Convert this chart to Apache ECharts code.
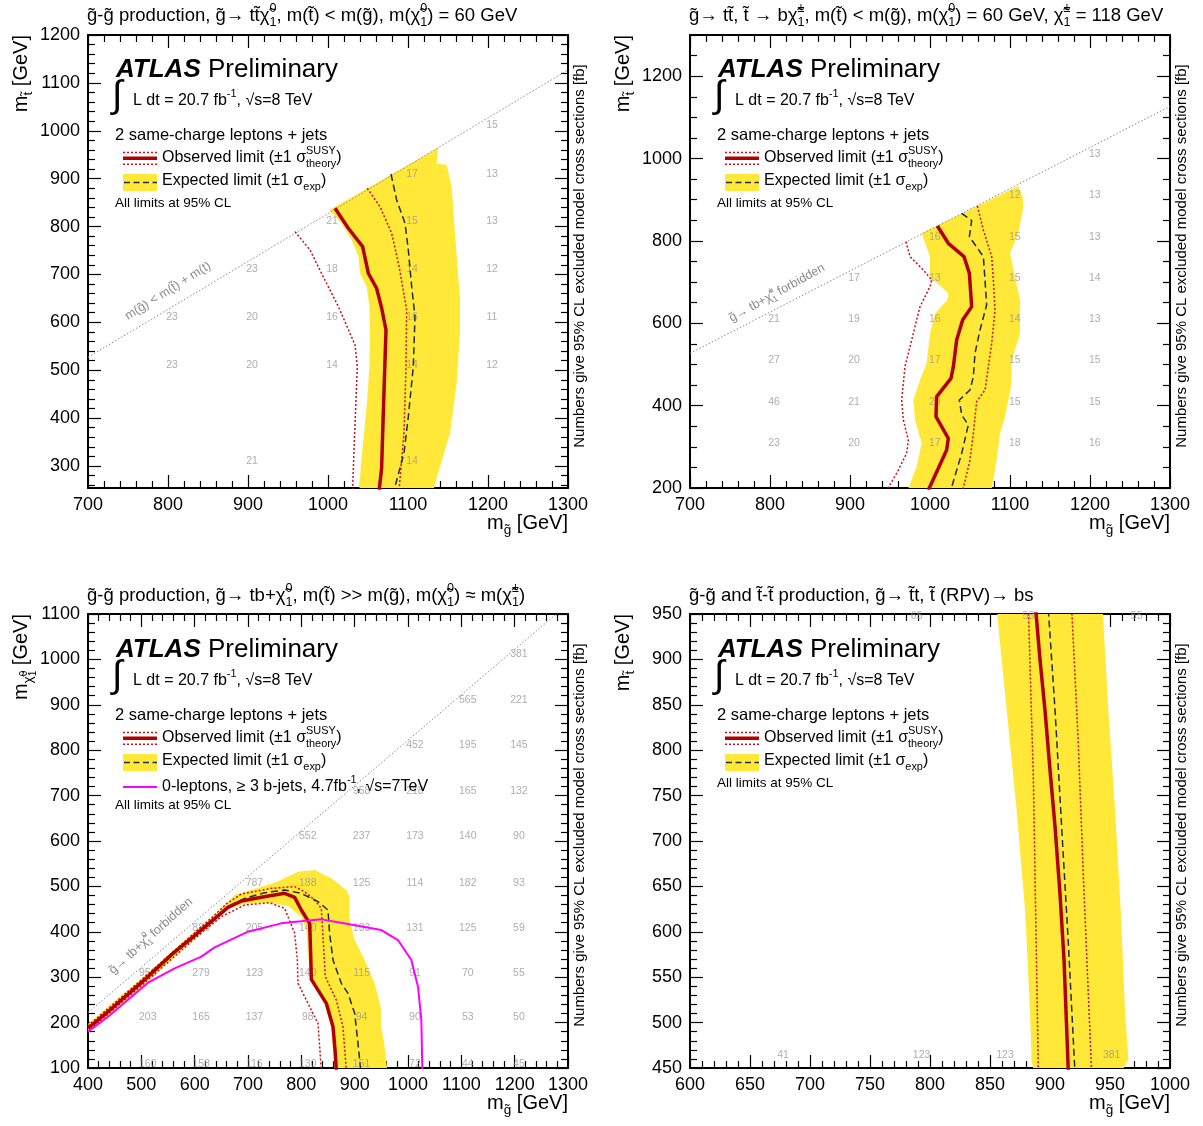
<!DOCTYPE html>
<html><head><meta charset="utf-8">
<script src="https://cdn.jsdelivr.net/npm/echarts@6/dist/echarts.min.js"></script>
<style>html,body{margin:0;padding:0;background:#fff}#c{width:1203px;height:1126px}</style>
</head><body><div id="c"></div>
<script>
// ---------------- DATA ----------------
// tick labels
const p1XTicks = [700,800,900,1000,1100,1200,1300];
const p1YTicks = [300,400,500,600,700,800,900,1000,1100,1200];
const p2XTicks = [700,800,900,1000,1100,1200,1300];
const p2YTicks = [200,400,600,800,1000,1200];
const p3XTicks = [400,500,600,700,800,900,1000,1100,1200,1300];
const p3YTicks = [100,200,300,400,500,600,700,800,900,1000,1100];
const p4XTicks = [600,650,700,750,800,850,900,950,1000];
const p4YTicks = [450,500,550,600,650,700,750,800,850,900,950];

// Panel 1: gluino -> t t chi (off-shell stop)
const p1Diag = [[700,527],[1300,1127]];
const p1Obs = [[1008.75,838],[1025.4,796.4],[1043.3,758],[1050.4,702.5],[1060.8,671],[1067.1,629.4],[1072.5,584],[1071,507.5],[1069,403],[1067,295],[1064,250]];
const p1ObsUp = [[1049,880],[1065,841.5],[1079.6,786],[1089,716],[1098.3,626],[1097.5,507.5],[1095,368.5],[1089,253.7],[1088,245]];
const p1ObsDn = [[958.75,789.4],[977.5,751],[994,695.4],[1012.9,633],[1033.75,553],[1036.6,507.5],[1035,438],[1032.5,333.6],[1030.8,253.7],[1030.5,245]];
const p1Exp = [[1078.75,909.8],[1085.8,855.5],[1096.25,807],[1100.4,751],[1104.6,674.5],[1108.75,612],[1106.6,507.5],[1100.4,403],[1095,327],[1083.75,257],[1082,245]];
const p1Band = [[1001.7,834.6],[1017,806.9],[1029.6,772],[1038,737.2],[1040,702.5],[1048.4,674.5],[1051.7,633],[1052.5,577.3],[1051.7,507.5],[1049,438],[1045,368.5],[1041,298.7],[1039,245],[1131,245],[1140,298.7],[1152.5,368.5],[1160.8,473],[1165,577],[1165,647],[1158.75,786],[1154.6,883],[1148.4,928.6],[1135.8,932],[1137.9,964.7]];
const p1Nums = [
  [1205,1012,'15'],
  [1105,910,'17'],[1205,910,'13'],
  [1005,812,'21'],[1105,812,'15'],[1205,812,'13'],
  [905,712,'23'],[1005,712,'18'],[1105,712,'14'],[1205,712,'12'],
  [805,611,'23'],[905,611,'20'],[1005,611,'16'],[1105,611,'16'],[1205,611,'11'],
  [805,511,'23'],[905,511,'20'],[1005,511,'14'],[1105,511,'14'],[1205,511,'12'],
  [905,311,'21'],[1105,311,'14']
];

// Panel 2: gluino -> t stop, stop -> b chargino
const p2Diag = [[700,527],[1300,1127]];
const p2Obs = [[1009.2,836.3],[1022.9,794.2],[1042.5,761.8],[1049.2,721.3],[1052.1,640.4],[1040.8,608],[1033.3,559.4],[1029.2,494.7],[1026.25,466.3],[1008.3,421.8],[1007.5,373.3],[1022.9,320.7],[1020.8,292.3],[998,195]];
const p2Exp = [[1039.6,867],[1052.1,849.2],[1049.2,810.4],[1066.7,761.8],[1068.75,705.1],[1070.8,644.4],[1062.5,583.7],[1056.25,527],[1054.2,470.4],[1050,438],[1036.7,413.7],[1039.6,377.3],[1047.9,353],[1039.6,284.2],[1026,195]];
const p2ObsUp = [[1059.2,884.8],[1066.7,826.5],[1077.1,761.8],[1079.2,705.1],[1081.25,632.3],[1077.1,551.3],[1068.75,438],[1058.3,409.7],[1054.2,332.8],[1050,268],[1041,195]];
const p2ObsDn = [[970,798.2],[975,761.8],[991.7,729.4],[1002.1,705.1],[1000,688.9],[987.5,640.4],[979.2,575.6],[968.75,494.7],[964.6,413.7],[966.7,365.2],[972.9,316.6],[970.8,284.2],[958.3,235.7],[946,195]];
const p2Band = [[989.6,818.4],[1000,761.8],[1000,713.2],[1022.9,672.8],[1021.7,656.6],[1006.25,624.2],[1000,575.6],[995.8,502.8],[987.5,462.3],[979.2,413.7],[981.25,365.2],[989.6,308.5],[983.3,251.9],[972,195],[1077,195],[1083.3,268],[1087.5,332.8],[1093.75,373.3],[1102.1,454.2],[1102.1,510.9],[1112.5,575.6],[1112.5,656.6],[1106.25,713.2],[1100,769.9],[1110.4,818.4],[1116.7,883.2],[1115.8,905.9],[1110.4,933.4]];
const p2Nums = [
  [1206,1010,'13'],
  [1106,910,'12'],[1206,910,'13'],
  [1006,810,'16'],[1106,810,'15'],[1206,810,'13'],
  [905,709,'17'],[1006,709,'13'],[1106,709,'15'],[1206,709,'14'],
  [805,610,'21'],[905,610,'19'],[1006,610,'16'],[1106,610,'14'],[1206,610,'13'],
  [805,510,'27'],[905,510,'20'],[1006,510,'17'],[1106,510,'15'],[1206,510,'15'],
  [805,408,'46'],[905,408,'21'],[1006,408,'20'],[1106,408,'15'],[1206,408,'15'],
  [805,309,'23'],[905,309,'20'],[1006,309,'17'],[1106,309,'18'],[1206,309,'16']
];

// Panel 3: gluino -> t b chi
const p3Diag = [[400,222],[1278,1100]];
const p3Obs = [[400,187.3],[437.5,224],[500,287.9],[559.4,352.5],[593.75,385.6],[634.4,425.9],[662.5,453.8],[687.5,467.8],[725,475.9],[768.75,484.7],[787.5,475.9],[800,448],[815.6,418.6],[817.5,352.5],[818.75,295.3],[846.9,242.4],[859.4,191],[863.75,132.3],[865.6,95]];
const p3Exp = [[400,188.5],[437.5,225.5],[500,289.5],[559.4,354],[593.75,387.5],[634.4,428],[662.5,456],[693.75,473.7],[731.25,486.1],[768.75,492],[800,484.7],[831.25,466.3],[850,448],[853,396.6],[859.4,337.8],[875,286.5],[887.5,264.4],[900,220.4],[906.25,154.3],[911.25,95]];
const p3ObsUp = [[400,193],[500,294],[600,398],[637.5,437],[660,462],[687.5,483.2],[743.75,495.7],[787.5,499.4],[806.25,488.3],[825,470],[837.5,451.6],[840.6,389.2],[845,301.1],[865.6,249.7],[878,191],[884.4,95]];
const p3ObsDn = [[400,181],[500,281],[600,385],[650,433.3],[693.75,459],[740.6,464.1],[768.75,451.6],[787.5,396.6],[792.5,337.8],[793.75,286.5],[815.6,235],[831.25,198.3],[837.5,95]];
const p3Band = [[400,197],[500,297],[587.5,388],[631,429.6],[675,481],[750,508.2],[793.75,532.4],[825,536.1],[856.25,517.7],[884.4,492],[890.6,477.3],[890.6,426],[900,381.9],[918.75,337.8],[937.5,286.5],[948.75,235],[950,191],[956.25,147],[961.25,95],[862,95],[856,191],[843,242],[817,294],[812.5,352.5],[809.4,404],[800,433.3],[775,456.8],[743.75,464.1],[693.75,462.6],[662.5,449.4],[625,411.3],[500,279],[400,178]];
const p3Zero = [[400,180],[437.5,213],[512.5,287.9],[562.5,319.5],[612.5,345.2],[637.5,365.7],[700,400.2],[762.5,418.6],[837.5,427.4],[887.5,417.1],[950,403.9],[981.25,381.9],[1006.25,337.8],[1018.75,279.1],[1025,205.7],[1026.9,95]];
const p3Nums = [
  [1208,1012,'381'],
  [1112,910,'565'],[1208,910,'221'],
  [1013,811,'452'],[1112,811,'195'],[1208,811,'145'],
  [913,710,'958'],[1013,710,'218'],[1112,710,'165'],[1208,710,'132'],
  [812,611,'552'],[913,611,'237'],[1013,611,'173'],[1112,611,'140'],[1208,611,'90'],
  [712,508,'787'],[812,508,'188'],[913,508,'125'],[1013,508,'114'],[1112,508,'182'],[1208,508,'93'],
  [612,409,'886'],[712,409,'205'],[812,409,'140'],[913,409,'133'],[1013,409,'131'],[1112,409,'125'],[1208,409,'59'],
  [512,310,'956'],[612,310,'279'],[712,310,'123'],[812,310,'140'],[913,310,'115'],[1013,310,'91'],[1112,310,'70'],[1208,310,'55'],
  [512,211,'203'],[612,211,'165'],[712,211,'137'],[812,211,'98'],[913,211,'94'],[1013,211,'90'],[1112,211,'53'],[1208,211,'50'],
  [512,109,'160'],[612,109,'158'],[712,109,'116'],[812,109,'130'],[913,109,'151'],[1013,109,'72'],[1112,109,'44'],[1208,109,'45']
];

// Panel 4: RPV stop -> bs
const p4Obs = [[888.1,955],[891.7,899.3],[895.8,844.3],[900,778.2],[904.2,715.8],[908.3,642.4],[911.7,569],[915.3,445]];
const p4Exp = [[898.6,955],[904.2,844.3],[909.7,715.8],[915.3,587.3],[920.8,445]];
const p4ObsDn = [[882,955],[886.1,770.9],[890.3,445]];
const p4ObsUp = [[918.1,955],[923.6,807.6],[927.8,660.7],[934.7,445]];
const p4Band = [[855.6,955],[863.9,844.3],[872.2,734.1],[879.2,624],[883.3,513.9],[884.7,458],[886.1,449],[961.1,449],[965.3,458.8],[962.5,513.9],[958.9,624],[954.2,734.1],[948.6,844.3],[943.9,955]];
const p4Nums = [[788.9,947.7,'65'],[882,947.7,'58'],[972.2,947.7,'55'],[677.5,464.3,'41'],[793,464.3,'123'],[862.5,464.3,'123'],[951.4,464.3,'381']];

// ---------------- STYLE ----------------
const FONT = '"Liberation Sans", Arial, Helvetica, sans-serif';
const YELLOW = '#ffe838';
const RED = '#b00000';
const RED_DOT = '#c8101a';
const EXP_C = '#1f2c3b';
const NUM_C = '#999999';
const GRAY = '#8a8a8a';
const MAG = '#ff00ff';

const G = 'g\u0303', ST = 't\u0303', CHI = '\u03c7\u0303';

const panels = [
  {left:88, top:35, w:480, h:453, x:[700,1300], y:[254,1200], xt:p1XTicks, yt:p1YTicks, xs:20, ys:20},
  {left:690, top:35, w:480, h:453, x:[700,1300], y:[200,1300], xt:p2XTicks, yt:p2YTicks, xs:20, ys:50},
  {left:88, top:614, w:480, h:454, x:[400,1300], y:[100,1100], xt:p3XTicks, yt:p3YTicks, xs:20, ys:20},
  {left:690, top:614, w:480, h:454, x:[600,1000], y:[450,950], xt:p4XTicks, yt:p4YTicks, xs:10, ys:10}
];

function minors(min, max, step, majors) {
  const out = [];
  for (let v = Math.ceil(min / step) * step; v <= max + 1e-9; v += step) {
    if (!majors.some(m => Math.abs(m - v) < 1e-6)) out.push(v);
  }
  return out;
}

function mkAxis(gi, min, max, pos, vals, len, showLabel, showLine) {
  const a = {
    type: 'value', gridIndex: gi, min, max, position: pos, offset: 0,
    axisLine: {show: showLine, onZero: false, lineStyle: {color: '#000', width: 2}},
    axisTick: {show: true, inside: true, length: len, customValues: vals, lineStyle: {color: '#000', width: 1.2}},
    axisLabel: {show: showLabel, margin: 8, fontSize: 18, fontFamily: FONT, color: '#000', formatter: v => String(v)},
    splitLine: {show: false}, minorTick: {show: false}, splitArea: {show: false}
  };
  if (showLabel) a.axisLabel.customValues = vals;
  return a;
}

const xAxis = [], yAxis = [], grid = [];
panels.forEach((p, i) => {
  grid.push({left: p.left, top: p.top, width: p.w, height: p.h, containLabel: false, outerBoundsMode: 'none'});
  const xm = minors(p.x[0], p.x[1], p.xs, p.xt), ym = minors(p.y[0], p.y[1], p.ys, p.yt);
  xAxis.push(mkAxis(i, p.x[0], p.x[1], 'bottom', p.xt, 13, true, true));
  xAxis.push(mkAxis(i, p.x[0], p.x[1], 'bottom', xm, 7, false, false));
  xAxis.push(mkAxis(i, p.x[0], p.x[1], 'top', p.xt, 13, false, true));
  xAxis.push(mkAxis(i, p.x[0], p.x[1], 'top', xm, 7, false, false));
  yAxis.push(mkAxis(i, p.y[0], p.y[1], 'left', p.yt, 13, true, true));
  yAxis.push(mkAxis(i, p.y[0], p.y[1], 'left', ym, 7, false, false));
  yAxis.push(mkAxis(i, p.y[0], p.y[1], 'right', p.yt, 13, false, true));
  yAxis.push(mkAxis(i, p.y[0], p.y[1], 'right', ym, 7, false, false));
});

function lineS(pi, data, color, width, type, z) {
  return {type: 'line', xAxisIndex: 4 * pi, yAxisIndex: 4 * pi, data, symbol: 'none', clip: true, silent: true,
    lineStyle: {color, width, type, cap: 'butt'}, z};
}
function bandS(pi, pts) {
  return {type: 'custom', xAxisIndex: 4 * pi, yAxisIndex: 4 * pi, clip: true, silent: true, z: 1,
    data: pts, encode: {x: 0, y: 1},
    renderItem: (params, api) => {
      if (params.dataIndex !== 0) return null;
      return {type: 'polygon', shape: {points: pts.map(q => api.coord(q))}, style: {fill: YELLOW}};
    }};
}
function numS(pi, nums) {
  return {type: 'scatter', xAxisIndex: 4 * pi, yAxisIndex: 4 * pi, data: nums, symbolSize: 0, silent: true, clip: true, z: 2,
    encode: {x: 0, y: 1},
    label: {show: true, position: 'inside', formatter: p => p.data[2], color: NUM_C, fontSize: 10.5, fontFamily: FONT}};
}
const DOT = [2, 2], DASH = [7, 4];
function contourSet(pi, band, dn, up, exp, obs) {
  return [bandS(pi, band),
    lineS(pi, dn, RED_DOT, 1.5, DOT, 4), lineS(pi, up, RED_DOT, 1.5, DOT, 4),
    lineS(pi, exp, EXP_C, 1.5, DASH, 5), lineS(pi, obs, RED, 3.5, 'solid', 6)];
}

const series = [
  lineS(0, p1Diag, GRAY, 1, [1.5, 2], 2), numS(0, p1Nums), ...contourSet(0, p1Band, p1ObsDn, p1ObsUp, p1Exp, p1Obs),
  lineS(1, p2Diag, GRAY, 1, [1.5, 2], 2), numS(1, p2Nums), ...contourSet(1, p2Band, p2ObsDn, p2ObsUp, p2Exp, p2Obs),
  lineS(2, p3Diag, GRAY, 1, [1.5, 2], 2), numS(2, p3Nums), ...contourSet(2, p3Band, p3ObsDn, p3ObsUp, p3Exp, p3Obs),
  lineS(2, p3Zero, MAG, 2, 'solid', 7),
  numS(3, p4Nums), ...contourSet(3, p4Band, p4ObsDn, p4ObsUp, p4Exp, p4Obs)
];

// ---------------- TEXT LAYOUT (ROOT-like latex) ----------------
// markup: ^{..} superscript, _{..} subscript, @{..} bold italic, ${..} sub-superscript, !{..} sub-subscript
const mctx = document.createElement('canvas').getContext('2d');
function tw(s, F, bold) { mctx.font = (bold ? 'italic bold ' : '') + F + 'px ' + FONT; return mctx.measureText(s).width; }
function parse(s) {
  const toks = []; let buf = '', i = 0;
  while (i < s.length) {
    const c = s[i];
    if ('^_@$!'.includes(c) && s[i + 1] === '{') {
      if (buf) { toks.push({t: 'n', s: buf}); buf = ''; }
      const j = s.indexOf('}', i + 2);
      toks.push({t: c, s: s.slice(i + 2, j)}); i = j + 1;
    } else { buf += c; i++; }
  }
  if (buf) toks.push({t: 'n', s: buf});
  return toks;
}
function latex(str, F, x, y, o) {
  o = o || {};
  const color = o.color || '#000', toks = parse(str), ch = [];
  const sF = Math.round(F * 0.68 * 10) / 10, ssF = Math.round(F * 0.5 * 10) / 10;
  let cx = 0;
  const put = (s, size, yy, bold) => ch.push({type: 'text', x: cx, y: yy, z: 100, silent: true,
    style: {text: s, fontSize: size, fontFamily: FONT, fontWeight: bold ? 'bold' : 'normal', fontStyle: bold ? 'italic' : 'normal',
      fill: color, align: 'left', verticalAlign: 'middle'}});
  const yOf = t => t === '^' ? -0.42 * F : t === '_' ? 0.36 * F : t === '$' ? 0.36 * F - 0.3 * sF : 0.36 * F + 0.36 * sF;
  const sz = t => (t === '^' || t === '_') ? sF : ssF;
  const pair = {'^': '_', '_': '^', '$': '!', '!': '$'};
  for (let k = 0; k < toks.length; k++) {
    const t = toks[k];
    if (t.t === 'n' || t.t === '@') { const b = t.t === '@'; put(t.s, F, 0, b); cx += tw(t.s, F, b); }
    else {
      let w = tw(t.s, sz(t.t)); put(t.s, sz(t.t), yOf(t.t));
      const nx = toks[k + 1];
      if (nx && nx.t === pair[t.t]) { put(nx.s, sz(nx.t), yOf(nx.t)); w = Math.max(w, tw(nx.s, sz(nx.t))); k++; }
      cx += w;
    }
  }
  const shift = o.align === 'right' ? -cx : o.align === 'center' ? -cx / 2 : 0;
  ch.forEach(c => c.x += shift);
  return {type: 'group', x, y, rotation: o.rot || 0, children: ch, silent: true, z: 100};
}
const R90 = Math.PI / 2, deg = d => d * Math.PI / 180;
function hline(x1, y1, x2, y2, stroke, lw, dash) {
  return {type: 'line', shape: {x1, y1, x2, y2}, z: 100, silent: true, style: {stroke, lineWidth: lw, lineDash: dash || null}};
}

const titles = [
  `${G}-${G} production, ${G}\u2192 t${ST}${CHI}^{0}_{1}, m(${ST}) < m(${G}), m(${CHI}^{0}_{1}) = 60 GeV`,
  `${G}\u2192 t${ST}, ${ST} \u2192 b${CHI}^{\u00b1}_{1}, m(${ST}) < m(${G}), m(${CHI}^{0}_{1}) = 60 GeV, ${CHI}^{\u00b1}_{1} = 118 GeV`,
  `${G}-${G} production, ${G}\u2192 tb+${CHI}^{0}_{1}, m(${ST}) >> m(${G}), m(${CHI}^{0}_{1}) \u2248 m(${CHI}^{\u00b1}_{1})`,
  `${G}-${G} and ${ST}-${ST} production, ${G}\u2192 ${ST}t, ${ST} (RPV)\u2192 bs`
];
const ytitles = [`m_{${ST}} [GeV]`, `m_{${ST}} [GeV]`, `m_{${CHI}}\${0}!{1} [GeV]`, `m_{${ST}} [GeV]`];
const offs = [[0, 0], [602, 0], [0, 580], [602, 580]];

const gfx = [];
offs.forEach(([dx, dy], i) => {
  const p = panels[i];
  gfx.push(latex(titles[i], 18.5, p.left - 1, 16 + dy));
  gfx.push(latex(ytitles[i], 20, 21 + dx, p.top, {rot: R90, align: 'right'}));
  gfx.push(latex(`m_{${G}} [GeV]`, 20, p.left + p.w, 523 + dy, {align: 'right'}));
  gfx.push(latex('Numbers give 95% CL excluded model cross sections [fb]', 15, p.left + p.w + 12, p.top + 221, {rot: R90, align: 'center'}));
  gfx.push(latex('@{ATLAS} Preliminary', 26, 116 + dx, 70 + dy));
  gfx.push(latex('\u222b', 38, 112 + dx, 97 + dy));
  gfx.push(latex('L dt = 20.7 fb^{-1}, \u221as=8 TeV', 16, 133 + dx, 101 + dy));
  gfx.push(latex('2 same-charge leptons + jets', 16.5, 115 + dx, 135 + dy));
  // observed legend
  gfx.push(hline(123 + dx, 152.5 + dy, 157 + dx, 152.5 + dy, RED_DOT, 1.5, DOT));
  gfx.push(hline(123 + dx, 158.3 + dy, 157 + dx, 158.3 + dy, RED, 3.5));
  gfx.push(hline(123 + dx, 164.3 + dy, 157 + dx, 164.3 + dy, RED_DOT, 1.5, DOT));
  gfx.push(latex('Observed limit (\u00b11 \u03c3^{SUSY}_{theory})', 16, 162 + dx, 158 + dy));
  // expected legend
  gfx.push({type: 'rect', shape: {x: 123 + dx, y: 174 + dy, width: 34, height: 17}, z: 100, silent: true, style: {fill: YELLOW}});
  gfx.push(hline(124 + dx, 182.5 + dy, 157 + dx, 182.5 + dy, EXP_C, 1.5, [6, 3.5]));
  gfx.push(latex('Expected limit (\u00b11 \u03c3_{exp})', 16, 162 + dx, 181 + dy));
  if (i === 2) {
    gfx.push(hline(123, 787, 157, 787, MAG, 2));
    gfx.push(latex('0-leptons, \u2265 3 b-jets, 4.7fb^{-1}, \u221as=7TeV', 16, 162, 787));
    gfx.push(latex('All limits at 95% CL', 13.5, 115, 805));
  } else {
    gfx.push(latex('All limits at 95% CL', 13.5, 115 + dx, 203 + dy));
  }
});
gfx.push(latex(`m(${G}) < m(${ST}) + m(t)`, 12.5, 168, 291, {rot: deg(32), align: 'center', color: GRAY}));
gfx.push(latex(`${G}\u2192 tb+${CHI}^{\u00b1}_{1} forbidden`, 12.5, 777, 293, {rot: deg(29), align: 'center', color: GRAY}));
gfx.push(latex(`${G}\u2192 tb+${CHI}^{0}_{1} forbidden`, 12.5, 151, 936, {rot: deg(42), align: 'center', color: GRAY}));

const chart = echarts.init(document.getElementById('c'), null, {renderer: 'canvas'});
chart.setOption({
  animation: false,
  backgroundColor: '#fff',
  grid, xAxis, yAxis, series,
  graphic: {elements: gfx}
});
</script></body></html>
